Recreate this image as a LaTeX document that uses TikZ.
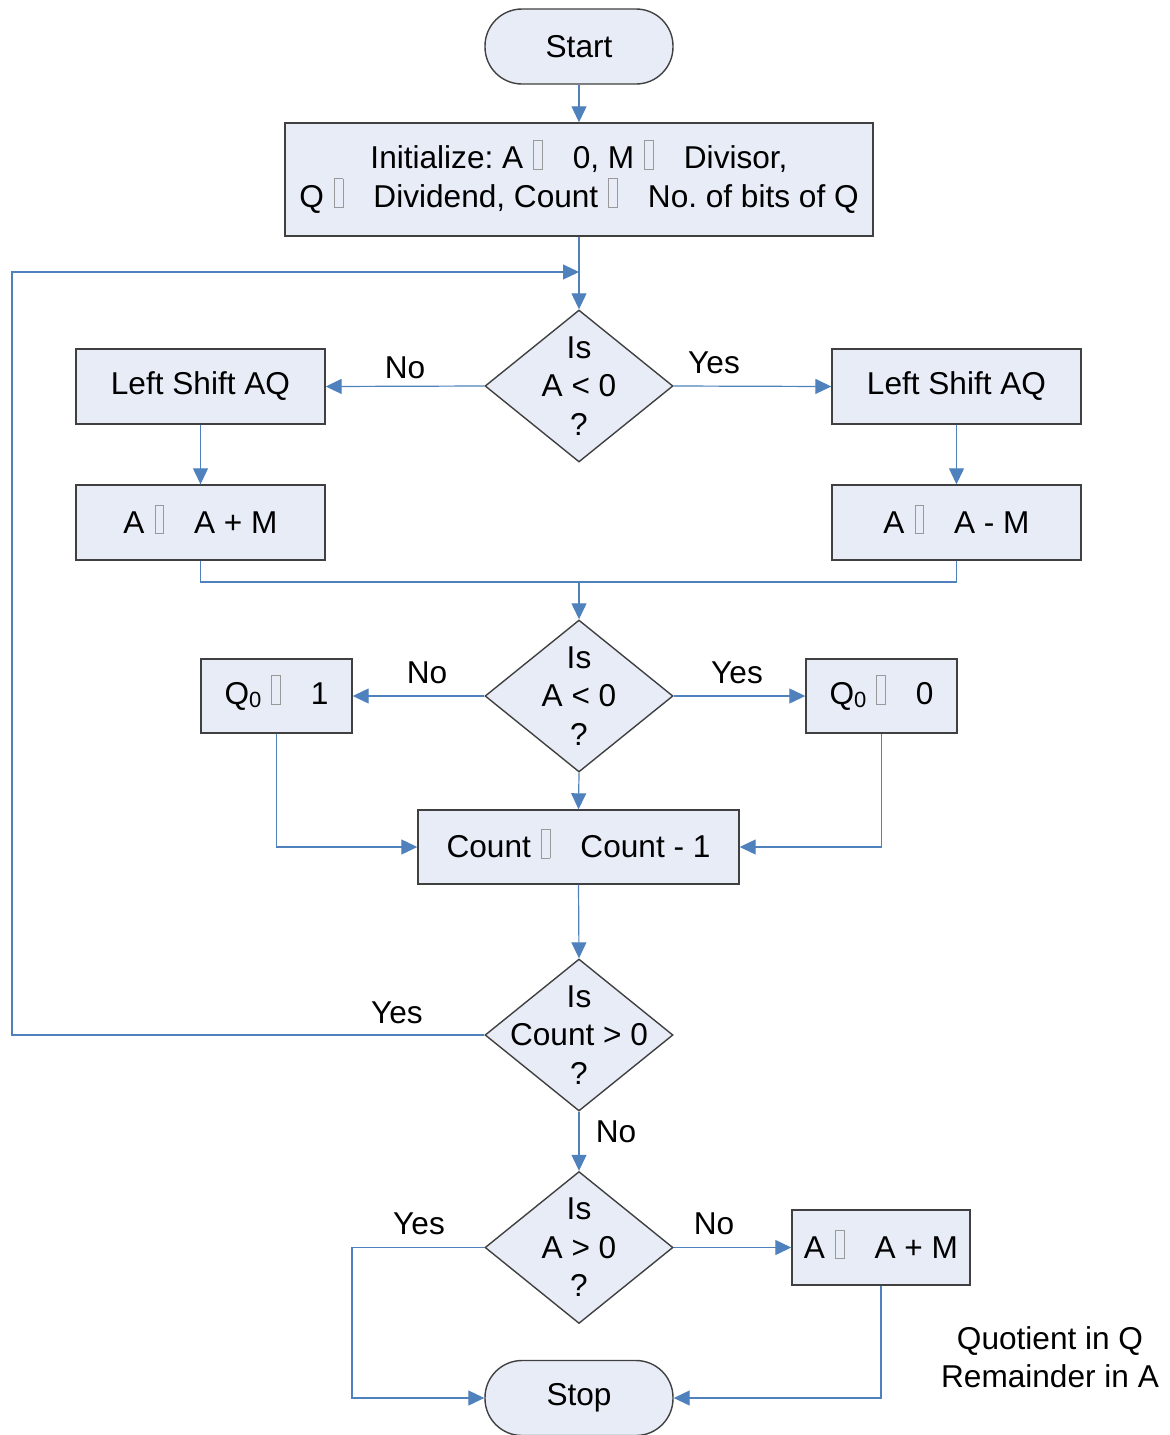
\documentclass[tikz,border=0pt]{standalone}
\usepackage{fontspec}
\setmainfont{Liberation Sans}
\usetikzlibrary{shapes.geometric,arrows.meta}
\definecolor{boxfill}{RGB}{231,236,247}
\definecolor{boxline}{RGB}{64,64,64}
\definecolor{flow}{RGB}{79,129,189}
\frenchspacing
% empty glyph box standing for the assignment symbol
\newcommand\tofu{\unskip\hspace{5pt}\smash{\color{gray!80}\setlength\fboxsep{0pt}\setlength\fboxrule{0.4pt}\fbox{\rule{0pt}{14pt}\hspace{4pt}}}\hspace{15pt}\ignorespaces}
\newcommand\qzero{Q\raisebox{-1.5pt}{\fontsize{11}{11}\selectfont 0}}
\begin{document}
\begin{tikzpicture}[x=0.5pt,y=-0.5pt,
  font=\fontsize{15.8}{19.2}\selectfont,
  box/.style={draw=boxline,fill=boxfill,line width=0.7pt,inner sep=0pt,align=center,
    minimum width=124.5pt,minimum height=37.5pt},
  term/.style={box,rounded corners=18.5pt,minimum width=94pt,minimum height=37.5pt},
  decision/.style={diamond,draw=boxline,fill=boxfill,line width=0.7pt,inner sep=0pt,
    minimum width=94pt,minimum height=76pt},
  dtext/.style={align=center,inner sep=0pt},
  lbl/.style={inner sep=0pt},
  flowline/.style={draw=flow,line width=0.6pt},
  arr/.style={flowline,-{Triangle[length=8pt,width=7.5pt]}}]
\useasboundingbox (0,0) rectangle (1169,1435);

% nodes
\node[term] (start) at (579,46.5) {Start};
\node[box,minimum width=294pt,minimum height=56.5pt] (init) at (579,179.5)
  {Initialize: A \tofu 0, M \tofu Divisor,\\Q \tofu Dividend, Count \tofu No. of bits of Q};
\coordinate (join) at (579,272);
\coordinate (lx) at (12,272);

\node[decision] (d1) at (579,386) {};
\node[dtext] at (d1) {Is\\A < 0\\?};
\node[box] (ls1) at (200.5,386.5) {Left Shift AQ};
\node[box] (ls2) at (956.5,386.5) {Left Shift AQ};
\node[box] (add1) at (200.5,522.5) {A \tofu A + M};
\node[box] (sub1) at (956.5,522.5) {A \tofu A - M};
\coordinate (merge) at (579,582);

\node[decision] (d2) at (579,696) {};
\node[dtext] at (d2) {Is\\A < 0\\?};
\node[box,minimum width=75.5pt,minimum height=37pt] (q1) at (276.5,696) {\qzero \tofu 1};
\node[box,minimum width=75.5pt,minimum height=37pt] (q0) at (881.5,696) {\qzero \tofu 0};
\node[box,minimum width=160.5pt,minimum height=37pt] (cnt) at (578.5,847) {Count \tofu Count - 1};

\node[decision] (d3) at (579,1035) {};
\node[dtext] at (d3) {Is\\Count > 0\\?};
\node[decision] (d4) at (579,1247.5) {};
\node[dtext] at (d4) {Is\\A > 0\\?};
\node[box,minimum width=89pt,minimum height=37.5pt] (add2) at (881,1247.5) {A \tofu A + M};
\node[term] (stop) at (579,1398) {Stop};

\node[align=center,inner sep=0pt] (note) at (1050,1357) {Quotient in Q\\Remainder in A};

% branch labels
\node[lbl] at (405,368) {No};
\node[lbl] at (714,363) {Yes};
\node[lbl] at (427,673) {No};
\node[lbl] at (737,673) {Yes};
\node[lbl] at (397,1013) {Yes};
\node[lbl] at (616,1132) {No};
\node[lbl] at (419,1224) {Yes};
\node[lbl] at (714,1224) {No};

% connectors
\draw[arr] (start.south) -- (init.north);
\draw[arr] (init.south) -- (d1.north);
\draw[arr] (d1.west) -- (ls1.east);
\draw[arr] (d1.east) -- (ls2.west);
\draw[arr] (ls1.south) -- (add1.north);
\draw[arr] (ls2.south) -- (sub1.north);
\draw[flowline] (add1.south) |- (merge) -- (sub1.south |- merge) -- (sub1.south);
\draw[arr] (merge) -- (d2.north);
\draw[arr] (d2.west) -- (q1.east);
\draw[arr] (d2.east) -- (q0.west);
\draw[arr] (d2.south) -- (cnt.north);
\draw[arr] (q1.south) |- (cnt.west);
\draw[arr] (q0.south) |- (cnt.east);
\draw[arr] (cnt.south) -- (d3.north);
\draw[arr] (d3.west) -| (lx) -- (join);
\draw[arr] (d3.south) -- (d4.north);
\draw[arr] (d4.east) -- (add2.west);
\draw[arr] (d4.west) -- (352,1247.5) |- (stop.west);
\draw[arr] (add2.south) |- (stop.east);
\end{tikzpicture}
\end{document}
